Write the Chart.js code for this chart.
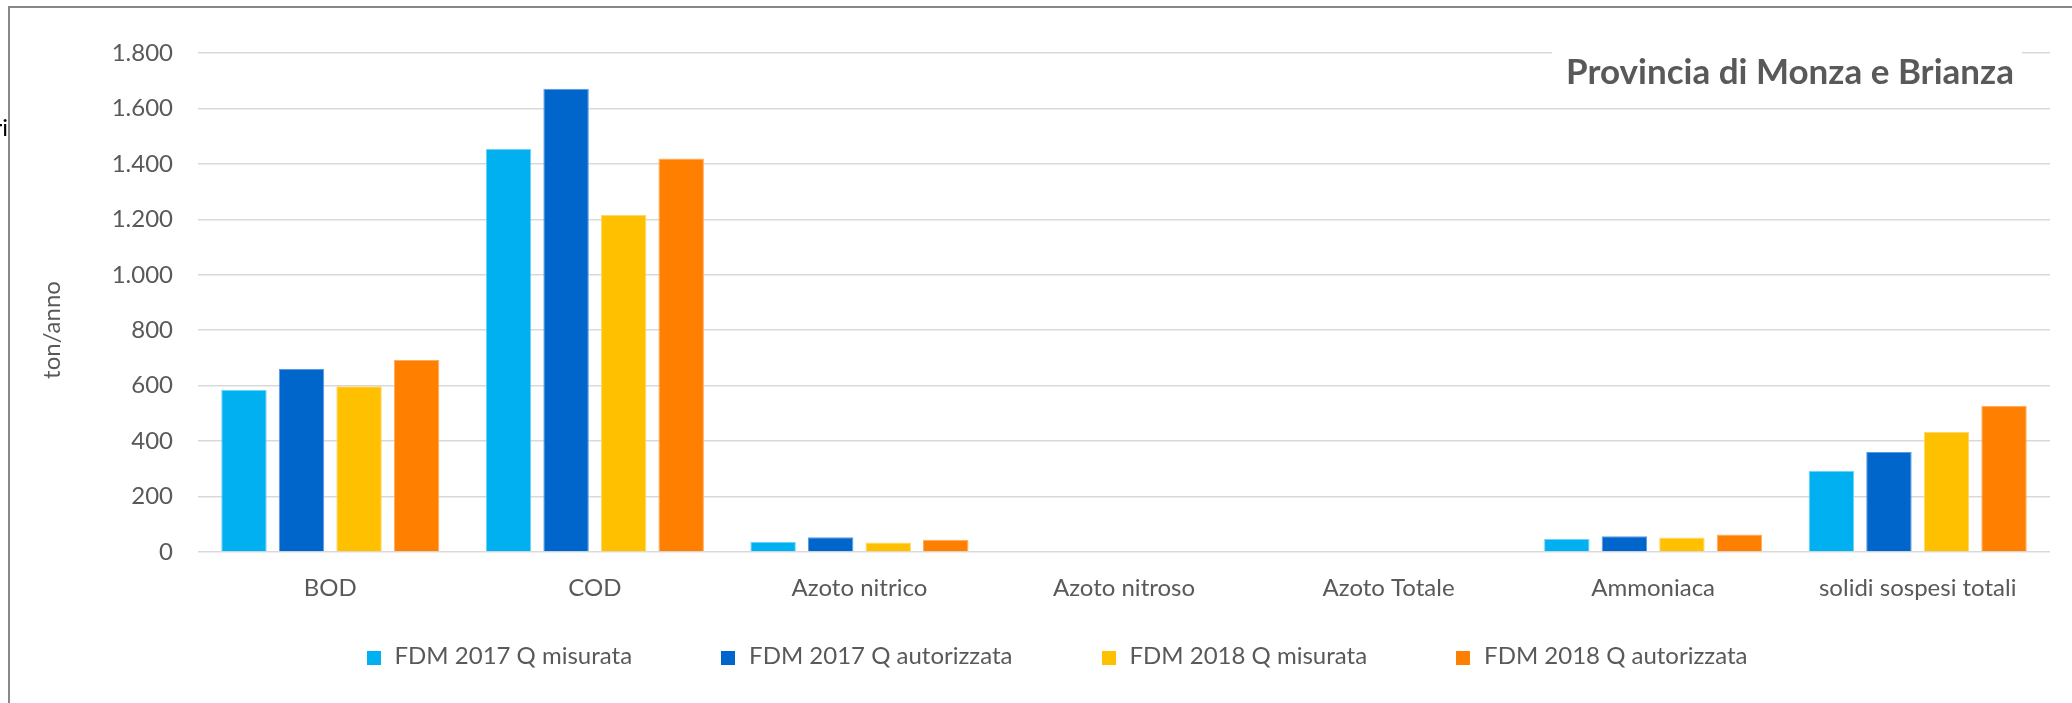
<!DOCTYPE html>
<html>
<head>
    <meta charset="UTF-8">
    <title>Provincia di Monza e Brianza</title>
    <script src="https://cdn.jsdelivr.net/npm/chart.js"></script>
    <style>
        html, body {
            margin: 0;
            padding: 0;
            background: #fff;
            overflow: hidden;
        }
        body {
            position: relative;
            width: 2072px;
            height: 703px;
        }
        #frame {
            position: absolute;
            left: 8px;
            top: 6px;
            width: 2100px;
            height: 800px;
            border-left: 2px solid #888;
            border-top: 2px solid #888;
        }
        #cut {
            position: absolute;
            right: 2064px;
            top: 113px;
            font: 24px Lato, sans-serif;
            line-height: 28px;
            color: #000;
            white-space: nowrap;
        }
        #myChart {
            position: absolute;
            left: 0;
            top: 0;
        }
        #legend {
            position: absolute;
            left: 0;
            top: 641px;
            width: 2114px;
            height: 28px;
            display: flex;
            justify-content: center;
            gap: 89px;
            font: 24px Lato, sans-serif;
            line-height: 28px;
            color: #595959;
            white-space: nowrap;
        }
        #legend .box {
            display: inline-block;
            width: 14px;
            height: 14px;
            margin-right: 14px;
            vertical-align: -1px;
        }
    </style>
</head>
<body>
    <div id="frame"></div>
    <canvas id="myChart" width="2072" height="703"></canvas>
    <div id="legend"></div>
    <span id="cut">ri</span>

    <script>
        const categories = ['BOD', 'COD', 'Azoto nitrico', 'Azoto nitroso', 'Azoto Totale', 'Ammoniaca', 'solidi sospesi totali'];
        const fdm2017Misurata = [585, 1454, 37, 0, 0, 47, 293];
        const fdm2017Autorizzata = [660, 1671, 53, 0, 0, 57, 361];
        const fdm2018Misurata = [598, 1216, 34, 0, 0, 52, 434];
        const fdm2018Autorizzata = [693, 1419, 44, 0, 0, 63, 528];
        const yTicks = [0, 200, 400, 600, 800, 1000, 1200, 1400, 1600, 1800];

        const FONT = 'Lato, sans-serif';
        const GREY = '#595959';

        // 1800 -> "1.800"
        function itNumber(v) {
            return String(v).replace(/\B(?=(\d{3})+(?!\d))/g, '.');
        }

        // chart title inside the plot and the rotated axis title
        const extras = {
            id: 'extras',
            afterDraw(chart) {
                const ctx = chart.ctx;
                ctx.save();
                ctx.fillStyle = '#fff';
                ctx.fillRect(1552, 38, 470, 60);
                ctx.fillStyle = GREY;
                ctx.font = 'bold 35px ' + FONT;
                ctx.textAlign = 'center';
                ctx.textBaseline = 'middle';
                ctx.fillText('Provincia di Monza e Brianza', 1790, 73);

                ctx.translate(52, 330);
                ctx.rotate(-Math.PI / 2);
                ctx.font = '24px ' + FONT;
                ctx.fillText('ton/anno', 0, 0);
                ctx.restore();
            }
        };

        const ctx = document.getElementById('myChart').getContext('2d');
        const chart = new Chart(ctx, {
            type: 'bar',
            data: {
                labels: categories,
                datasets: [{
                    label: 'FDM 2017 Q misurata',
                    data: fdm2017Misurata,
                    backgroundColor: '#00B0F0',
                    borderColor: '#6fd3f6'
                }, {
                    label: 'FDM 2017 Q autorizzata',
                    data: fdm2017Autorizzata,
                    backgroundColor: '#0066CC',
                    borderColor: '#5b9be0'
                }, {
                    label: 'FDM 2018 Q misurata',
                    data: fdm2018Misurata,
                    backgroundColor: '#FFC000',
                    borderColor: '#ffd766'
                }, {
                    label: 'FDM 2018 Q autorizzata',
                    data: fdm2018Autorizzata,
                    backgroundColor: '#FF8000',
                    borderColor: '#ffab5c'
                }]
            },
            options: {
                responsive: false,
                animation: false,
                categoryPercentage: 0.87,
                barPercentage: 0.79,
                borderWidth: 1,
                borderSkipped: 'start',
                layout: {
                    padding: { left: 64, right: 22, top: 53, bottom: 91 }
                },
                scales: {
                    x: {
                        grid: { display: false, drawTicks: false },
                        border: { display: false },
                        ticks: {
                            color: GREY,
                            font: { family: FONT, size: 24 },
                            padding: 22,
                            maxRotation: 0,
                            autoSkip: false
                        },
                        afterFit(scale) { scale.height = 60; }
                    },
                    y: {
                        min: 0,
                        max: 1800,
                        afterBuildTicks(scale) {
                            scale.ticks = yTicks.map(v => ({ value: v }));
                        },
                        grid: { color: '#d9d9d9', lineWidth: 1.6, drawTicks: false },
                        border: { display: false },
                        ticks: {
                            color: GREY,
                            font: { family: FONT, size: 24 },
                            padding: 25,
                            callback: v => itNumber(v)
                        },
                        afterFit(scale) { scale.width = 134; }
                    }
                },
                plugins: {
                    legend: { display: false },
                    tooltip: { enabled: false }
                }
            },
            plugins: [extras]
        });

        // legend built from the chart's own legend items
        const legendEl = document.getElementById('legend');
        chart.options.plugins.legend.labels.generateLabels(chart).forEach(item => {
            const span = document.createElement('span');
            const box = document.createElement('span');
            box.className = 'box';
            box.style.background = item.fillStyle;
            span.appendChild(box);
            span.appendChild(document.createTextNode(item.text));
            legendEl.appendChild(span);
        });
    </script>
</body>
</html>
